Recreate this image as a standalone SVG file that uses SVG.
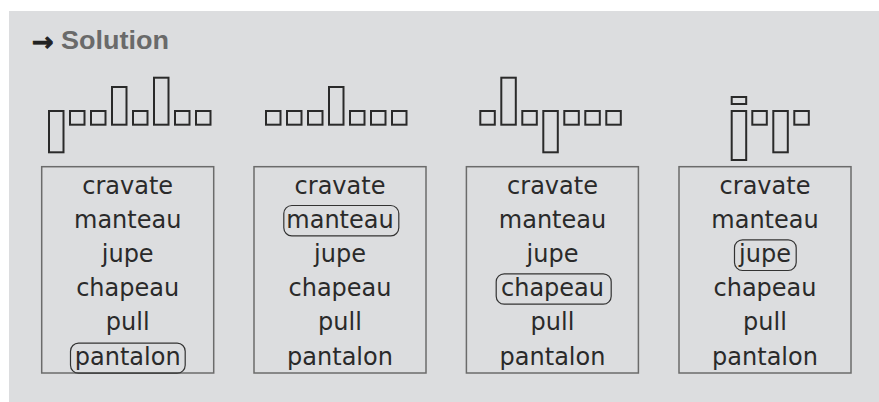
<svg xmlns="http://www.w3.org/2000/svg" width="879" height="402" viewBox="0 0 879 402">
<style>
.bg{fill:#dcdddf}
.shape rect{fill:none;stroke:#2a2a2a;stroke-width:2}
.box{fill:none;stroke:#6b6b6b;stroke-width:1.5}
.hl{fill:none;stroke:#333;stroke-width:1.2}
.word{font-family:"DejaVu Sans",sans-serif;font-size:24px;fill:#2a2a2a;text-anchor:middle}
.title{font-family:"Liberation Sans",Arial,sans-serif;font-weight:bold;font-size:25.5px;fill:#6a6a6a}
.arrow{font-family:"DejaVu Sans",sans-serif;font-weight:bold;font-size:26px;fill:#222;stroke:#222;stroke-width:0.8}
</style>
<rect x="0" y="0" width="879" height="402" fill="#ffffff"/>
<rect class="bg" x="9" y="11" width="870" height="391"/>
<g id="header">
<text class="arrow" x="32" y="51">→</text>
<text class="title" x="61" y="48.7" textLength="108" lengthAdjust="spacingAndGlyphs">Solution</text>
</g>
<g id="shape-pantalon" class="shape">
<rect x="49" y="111" width="14.5" height="41.3"/>
<rect x="70" y="111" width="14.5" height="13.7"/>
<rect x="91" y="111" width="14.5" height="13.7"/>
<rect x="112" y="87" width="14.5" height="37.7"/>
<rect x="133" y="111" width="14.5" height="13.7"/>
<rect x="154" y="77.7" width="14.5" height="47"/>
<rect x="175" y="111" width="14.5" height="13.7"/>
<rect x="196" y="111" width="14.5" height="13.7"/>
</g>
<g id="shape-manteau" class="shape">
<rect x="266" y="111" width="14.5" height="13.7"/>
<rect x="287" y="111" width="14.5" height="13.7"/>
<rect x="308" y="111" width="14.5" height="13.7"/>
<rect x="329" y="87" width="14.5" height="37.7"/>
<rect x="350" y="111" width="14.5" height="13.7"/>
<rect x="371" y="111" width="14.5" height="13.7"/>
<rect x="392" y="111" width="14.5" height="13.7"/>
</g>
<g id="shape-chapeau" class="shape">
<rect x="480.3" y="111" width="14.5" height="13.7"/>
<rect x="501.3" y="77.7" width="14.5" height="47"/>
<rect x="522.3" y="111" width="14.5" height="13.7"/>
<rect x="543.3" y="111" width="14.5" height="41.3"/>
<rect x="564.3" y="111" width="14.5" height="13.7"/>
<rect x="585.3" y="111" width="14.5" height="13.7"/>
<rect x="606.3" y="111" width="14.5" height="13.7"/>
</g>
<g id="shape-jupe" class="shape">
<rect x="731.7" y="97" width="14.5" height="7"/>
<rect x="731.7" y="111" width="14.5" height="49"/>
<rect x="752.3" y="111" width="14.5" height="13.7"/>
<rect x="773.3" y="111" width="14.5" height="41.3"/>
<rect x="794.3" y="111" width="14.5" height="13.7"/>
</g>
<g id="list1">
<rect class="box" x="41.7" y="166.7" width="172" height="206.3"/>
<rect class="hl" x="70.5" y="343.2" width="114.7" height="30" rx="8"/>
<text class="word" x="127.7" y="193.5">cravate</text>
<text class="word" x="127.7" y="227.7">manteau</text>
<text class="word" x="127.7" y="261.9">jupe</text>
<text class="word" x="127.7" y="296.1">chapeau</text>
<text class="word" x="127.7" y="330.3">pull</text>
<text class="word" x="127.7" y="364.5">pantalon</text>
</g>
<g id="list2">
<rect class="box" x="254" y="166.7" width="172" height="206.3"/>
<rect class="hl" x="283.8" y="205.5" width="115" height="30.3" rx="8"/>
<text class="word" x="340" y="193.5">cravate</text>
<text class="word" x="340" y="227.7">manteau</text>
<text class="word" x="340" y="261.9">jupe</text>
<text class="word" x="340" y="296.1">chapeau</text>
<text class="word" x="340" y="330.3">pull</text>
<text class="word" x="340" y="364.5">pantalon</text>
</g>
<g id="list3">
<rect class="box" x="466.4" y="166.7" width="172" height="206.3"/>
<rect class="hl" x="496.2" y="273.8" width="115" height="30.4" rx="8"/>
<text class="word" x="552.5" y="193.5">cravate</text>
<text class="word" x="552.5" y="227.7">manteau</text>
<text class="word" x="552.5" y="261.9">jupe</text>
<text class="word" x="552.5" y="296.1">chapeau</text>
<text class="word" x="552.5" y="330.3">pull</text>
<text class="word" x="552.5" y="364.5">pantalon</text>
</g>
<g id="list4">
<rect class="box" x="679" y="166.7" width="172" height="206.3"/>
<rect class="hl" x="734.5" y="239.8" width="61.7" height="30.7" rx="8"/>
<text class="word" x="765" y="193.5">cravate</text>
<text class="word" x="765" y="227.7">manteau</text>
<text class="word" x="765" y="261.9">jupe</text>
<text class="word" x="765" y="296.1">chapeau</text>
<text class="word" x="765" y="330.3">pull</text>
<text class="word" x="765" y="364.5">pantalon</text>
</g>
<g id="connectors"></g>
</svg>
